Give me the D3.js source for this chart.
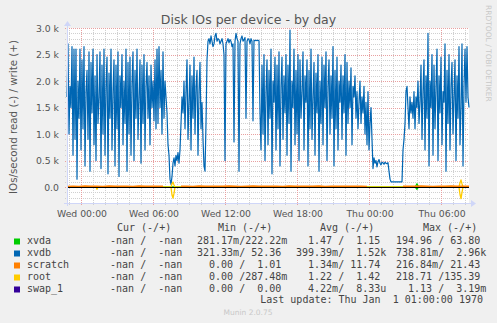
<!DOCTYPE html>
<html>
<head>
<meta charset="utf-8">
<script src="https://cdn.jsdelivr.net/npm/d3@7"></script>
<style>
  html, body { margin: 0; padding: 0; background: #f0f0f0; }
  svg { display: block; }
  text { font-family: "DejaVu Sans", sans-serif; }
  .mono { font-family: "DejaVu Sans Mono", monospace; white-space: pre; }
</style>
</head>
<body>
<div id="chart"></div>
<script>
// time range: first sample and step (5 min)
const START = Date.UTC(2024, 0, 2, 22, 50);
const STEP_MIN = 5;

// xvdb writes (+), one sample every 5 minutes
const xvdbWrite = [
  1700, 2700, 1000, 1900, 1500, 2650, 600, 2600, 900, 2600, 150, 2000, 1300, 2600, 700, 2400, 1100, 2650, 400, 1800,
  2200, 900, 2550, 300, 2350, 1400, 2600, 800, 2100, 500, 2500, 1200, 1700, 2550, 350, 2300, 1000, 2600, 600, 1900,
  2450, 250, 2150, 1300, 2600, 700, 1800, 2400, 400, 2300, 1100, 2550, 200, 2100, 1500, 2500, 800, 2000, 1200, 2600,
  300, 2350, 1000, 2450, 600, 1950, 2550, 500, 2200, 1300, 2600, 900, 1700, 2400, 450, 2300, 1200, 2500, 700, 1900,
  2350, 1300, 2100, 800, 2300, 1500, 2000, 1250, 2400, 1100, 2600, 1200, 2650, 1500, 2200, 1000, 2550, 1300, 2000, 1700,
  1400, 800,
  600, 150, 50, 200, 450, 550, 400, 600,
  500, 650, 450, 700,
  1200, 1700, 1400, 2000, 1100, 1800, 2400, 900, 1600, 2300, 700, 2100, 1300, 2450, 1000, 1900, 2200, 600, 1800, 2350,
  1100, 1600, 900, 400, 300,
  1200, 2400, 2750, 2800, 2700, 2850, 2750, 2650, 2700, 2850, 2900, 2750, 2800, 2780, 2700, 2750, 2800, 2700, 2500, 500,
  2700, 2750, 2800, 2720, 2780, 2750, 2650, 2700, 850, 2750, 2900, 2800, 2750, 300, 2700, 2800, 2850, 2750, 2780, 2820,
  1300, 2750, 2800, 2780, 2700, 2800, 2750, 1250, 2770, 2760, 2770, 2760, 2770, 2760,
  1400, 700, 2300, 1000, 2500, 500, 1800, 2400, 800, 2200, 1300, 2600, 250, 2000, 1600, 2450, 700, 2300, 1100, 2550,
  400, 1900, 2450, 900, 2100, 1400, 2500, 600, 2300, 1200, 2960, 300, 2000, 1500, 2600, 800, 2200, 1000, 2500, 500,
  2400, 1300, 1800, 2550, 700, 2100, 1600, 2400, 400, 2200, 1100, 2600, 900, 1700, 2350, 600, 2150, 1400, 2500, 300,
  2000, 1200, 2450, 800, 2300, 1500, 2550, 500, 1900, 2400, 1000, 2100, 1300, 2650, 400, 2200, 1100, 2450, 700, 2000,
  1600, 2300, 900, 2100, 1400, 2500, 600, 2350, 1200, 2000, 1500, 2250, 800, 1900, 1700, 2100, 1300, 1800, 1100, 1600,
  2000, 1200, 1700, 1400, 1900, 1000, 1600, 800, 1800, 700, 1200, 1500,
  900, 350, 550, 450, 500, 380, 480, 520, 450, 420, 470, 460, 430, 470, 450, 440, 460, 300, 150, 100,
  100, 100, 100, 100, 100, 100, 100, 100, 100, 100,
  100, 700, 900, 1200, 1800, 1900, 1500, 1100, 1700, 1400,
  1600, 1300, 1800, 1100, 1700, 1500, 2000, 1200, 1600, 2300, 900, 1800, 2400, 700, 2100, 1300, 2900, 400, 2000, 1500,
  2500, 600, 2300, 1100, 1900, 2600, 500, 2100, 1400, 2450, 800, 1800, 1600, 2700, 300, 2200, 1200, 2500, 700, 1900,
  2350, 1000, 1700, 2400, 500, 2100, 1300, 2650, 800, 1500, 2700, 400, 1900, 2600, 1600, 2650, 1700, 1500
];

// scratch writes, one sample every 30 minutes (null = no data)
const SCRATCH_STEP_MIN = 30;
const scratchWrite = [
  12, 15, 10, 18, 14, 16, 11, 20, 13, 15, 17, 12, 19, 14, 16, 13, 15, null, null, 14,
  16, 12, 18, 15, 13, 17, 14, 20, 16, 12, 15, 18, 13, 16, 14, 17, 12, 19, 15, 13,
  16, 14, 18, 12, 15, 17, 13, 16, 14, 15, 12, null, null, null, null, null, 14, 16,
  13, 18, 15, 12, 17, 14, 21, 13, 15, 14
];

// sparse samples (5-minute index) for the small series
const rootIdx   = [0, 29, 30, 31, 100, 104, 105, 106, 107, 108, 112, 390, 392, 393, 394, 395, 396, 402];
const rootWrite = [1, 1, 2, 1, 1, 2, 60, 95, 40, 2, 1, 1, 2, 80, 135, 60, 2, 1];
const rootRead  = [0, 0, 40, 0, 0, 0, 150, 208, 120, 0, 0, 0, 0, 140, 218, 100, 0, 0];

const xvdaIdx   = [0, 348, 349, 350, 351, 352, 402];
const xvdaWrite = [1, 1, 30, 63.8, 20, 1, 1];
const xvdaRead  = [0, 0, 20, 40, 10, 0, 0];

// axis ticks
const yTicks = [0, 500, 1000, 1500, 2000, 2500, 3000];
const yMinor = d3.range(-300, 3001, 100);

// legend
const legendNames  = ["xvda", "xvdb", "scratch", "root", "swap_1"];
const legendColors = ["#00cc00", "#0066b3", "#ff8000", "#ffcc00", "#330099"];
const legendHeads  = ["Cur (-/+)", "Min (-/+)", "Avg (-/+)", "Max (-/+)"];
const legendCur = ["  -nan /  -nan ", "  -nan /  -nan ", "  -nan /  -nan ", "  -nan /  -nan ", "  -nan /  -nan "];
const legendMin = ["281.17m/222.22m", "321.33m/ 52.36 ", "  0.00 /  1.01 ", "  0.00 /287.48m", "  0.00 /  0.00 "];
const legendAvg = ["  1.47 /  1.15 ", "399.39m/  1.52k", "  1.34m/ 11.74 ", "  1.22 /  1.42 ", "  4.22m/  8.33u"];
const legendMax = ["194.96 / 63.80 ", "738.81m/  2.96k", "216.84m/ 21.43 ", "218.71 /135.39 ", "  1.13 /  3.19m"];

const W = 497, H = 323;
const PLOT = { left: 67, right: 469, top: 28, bottom: 203 };

const svg = d3.select("#chart").append("svg")
  .attr("width", W).attr("height", H);

svg.append("rect").attr("width", W).attr("height", H).attr("fill", "#f0f0f0");

const t = i => new Date(START + i * STEP_MIN * 60000);
const xScale = d3.scaleUtc()
  .domain([t(0), t(xvdbWrite.length - 1)])
  .range([PLOT.left, PLOT.right]);
const yScale = d3.scaleLinear()
  .domain([-300, 3000])
  .range([PLOT.bottom, PLOT.top]);

// canvas
svg.append("rect")
  .attr("x", PLOT.left).attr("y", PLOT.top)
  .attr("width", PLOT.right - PLOT.left).attr("height", PLOT.bottom - PLOT.top)
  .attr("fill", "#ffffff");

// grid
const grid = svg.append("g").attr("shape-rendering", "crispEdges");
const hourTicks = d3.utcHour.every(1).range(xScale.domain()[0], xScale.domain()[1]);
grid.selectAll(".vminor")
  .data(hourTicks.filter(d => d.getUTCHours() % 6 !== 0))
  .enter().append("line")
  .attr("x1", d => Math.round(xScale(d)) + 0.5).attr("x2", d => Math.round(xScale(d)) + 0.5)
  .attr("y1", PLOT.top).attr("y2", PLOT.bottom + 2)
  .attr("stroke", "#d0d0d0").attr("stroke-dasharray", "1,1");
grid.selectAll(".hminor")
  .data(yMinor.filter(v => v % 500 !== 0))
  .enter().append("line")
  .attr("x1", PLOT.left - 2).attr("x2", PLOT.right)
  .attr("y1", d => Math.round(yScale(d)) + 0.5).attr("y2", d => Math.round(yScale(d)) + 0.5)
  .attr("stroke", "#d0d0d0").attr("stroke-dasharray", "1,1");
grid.selectAll(".vmajor")
  .data(hourTicks.filter(d => d.getUTCHours() % 6 === 0))
  .enter().append("line")
  .attr("x1", d => Math.round(xScale(d)) + 0.5).attr("x2", d => Math.round(xScale(d)) + 0.5)
  .attr("y1", PLOT.top).attr("y2", PLOT.bottom + 2)
  .attr("stroke", "#e8a0a0").attr("stroke-dasharray", "1,1");
grid.selectAll(".hmajor")
  .data(yTicks)
  .enter().append("line")
  .attr("x1", PLOT.left - 2).attr("x2", PLOT.right)
  .attr("y1", d => Math.round(yScale(d)) + 0.5).attr("y2", d => Math.round(yScale(d)) + 0.5)
  .attr("stroke", "#e8a0a0").attr("stroke-dasharray", "1,1");

// y labels
svg.selectAll(".ylab")
  .data(yTicks)
  .enter().append("text")
  .attr("x", 59).attr("y", d => yScale(d) + 3.5)
  .attr("text-anchor", "end")
  .attr("font-size", "9.3px").attr("fill", "#555")
  .text(d => d === 0 ? "0.0" : d3.format(".1f")(d / 1000) + " k");

// x labels
const fmt = d3.utcFormat("%a %H:%M");
svg.selectAll(".xlab")
  .data(hourTicks.filter(d => d.getUTCHours() % 6 === 0))
  .enter().append("text")
  .attr("x", d => xScale(d) + 1).attr("y", 216.5)
  .attr("text-anchor", "middle")
  .attr("font-size", "9.3px").attr("fill", "#555")
  .text(fmt);

// series
const line = d3.line()
  .defined(d => d.v !== null)
  .x(d => xScale(d.t)).y(d => yScale(d.v));

function drawSeries(points, color, width) {
  svg.append("path")
    .datum(points)
    .attr("fill", "none")
    .attr("stroke", color)
    .attr("stroke-width", width)
    .attr("stroke-linejoin", "round")
    .attr("d", line);
}

drawSeries(xvdaIdx.map((i, k) => ({ t: t(i), v: xvdaWrite[k] })), legendColors[0], 1.3);
drawSeries(xvdaIdx.map((i, k) => ({ t: t(i), v: -xvdaRead[k] })), legendColors[0], 1.3);
drawSeries(xvdbWrite.map((v, i) => ({ t: t(i), v: v })), legendColors[1], 1.2);
drawSeries(rootIdx.map((i, k) => ({ t: t(i), v: rootWrite[k] })), legendColors[3], 1.3);
drawSeries(rootIdx.map((i, k) => ({ t: t(i), v: -rootRead[k] })), legendColors[3], 1.3);
drawSeries(scratchWrite.map((v, i) => ({ t: new Date(START + i * SCRATCH_STEP_MIN * 60000), v: v })), legendColors[2], 1.6);

// zero rule
svg.append("line")
  .attr("x1", PLOT.left).attr("x2", PLOT.right)
  .attr("y1", yScale(0) + 0.5).attr("y2", yScale(0) + 0.5)
  .attr("stroke", "#000").attr("stroke-width", 1)
  .attr("shape-rendering", "crispEdges");

// axes with arrows
const axisColor = "#cfd6f8";
svg.append("line")
  .attr("x1", PLOT.left - 3).attr("x2", PLOT.right + 4)
  .attr("y1", PLOT.bottom + 0.5).attr("y2", PLOT.bottom + 0.5)
  .attr("stroke", axisColor);
svg.append("path")
  .attr("d", `M${PLOT.right + 2},${PLOT.bottom - 3}L${PLOT.right + 7},${PLOT.bottom + 0.5}L${PLOT.right + 2},${PLOT.bottom + 4}Z`)
  .attr("fill", axisColor);
svg.append("line")
  .attr("x1", PLOT.left + 0.5).attr("x2", PLOT.left + 0.5)
  .attr("y1", PLOT.bottom + 3).attr("y2", PLOT.top - 4)
  .attr("stroke", axisColor);
svg.append("path")
  .attr("d", `M${PLOT.left - 3},${PLOT.top - 2}L${PLOT.left + 0.5},${PLOT.top - 7}L${PLOT.left + 4},${PLOT.top - 2}Z`)
  .attr("fill", axisColor);

// title and side texts
svg.append("text")
  .attr("x", 248.5).attr("y", 23.5)
  .attr("text-anchor", "middle")
  .attr("font-size", "12.5px").attr("fill", "#555")
  .text("Disk IOs per device - by day");

svg.append("text")
  .attr("transform", "translate(16.5,117) rotate(-90)")
  .attr("text-anchor", "middle")
  .attr("font-size", "10.3px").attr("fill", "#555")
  .text("IOs/second read (-) / write (+)");

svg.append("text")
  .attr("transform", "translate(486,5) rotate(90)")
  .attr("text-anchor", "start")
  .attr("font-size", "7.5px").attr("fill", "#c8c8c8")
  .text("RRDTOOL / TOBI OETIKER");

// legend
const legend = svg.append("g").attr("class", "mono").attr("font-size", "10px").attr("fill", "#444");
const headX = [117, 218, 320, 423];
legend.selectAll(".head")
  .data(legendHeads)
  .enter().append("text")
  .attr("class", "mono")
  .attr("x", (d, i) => headX[i]).attr("y", 231)
  .text(d => d);

const cols = [legendCur, legendMin, legendAvg, legendMax];
const colX = [98, 197, 296, 396];
legendNames.forEach((name, r) => {
  const y = 243.5 + r * 12;
  legend.append("rect")
    .attr("x", 14).attr("y", y - 5).attr("width", 6).attr("height", 6)
    .attr("fill", legendColors[r]);
  legend.append("text").attr("class", "mono").attr("x", 27).attr("y", y).text(name);
  cols.forEach((c, k) => {
    legend.append("text").attr("class", "mono")
      .attr("x", colX[k]).attr("y", y)
      .attr("xml:space", "preserve")
      .text(c[r]);
  });
});

legend.append("text").attr("class", "mono")
  .attr("x", 483).attr("y", 303)
  .attr("text-anchor", "end")
  .attr("xml:space", "preserve")
  .text("Last update: Thu Jan  1 01:00:00 1970");

svg.append("text")
  .attr("x", 248).attr("y", 315)
  .attr("text-anchor", "middle")
  .attr("font-size", "7.5px").attr("fill", "#c8c8c8")
  .text("Munin 2.0.75");
</script>
</body>
</html>
